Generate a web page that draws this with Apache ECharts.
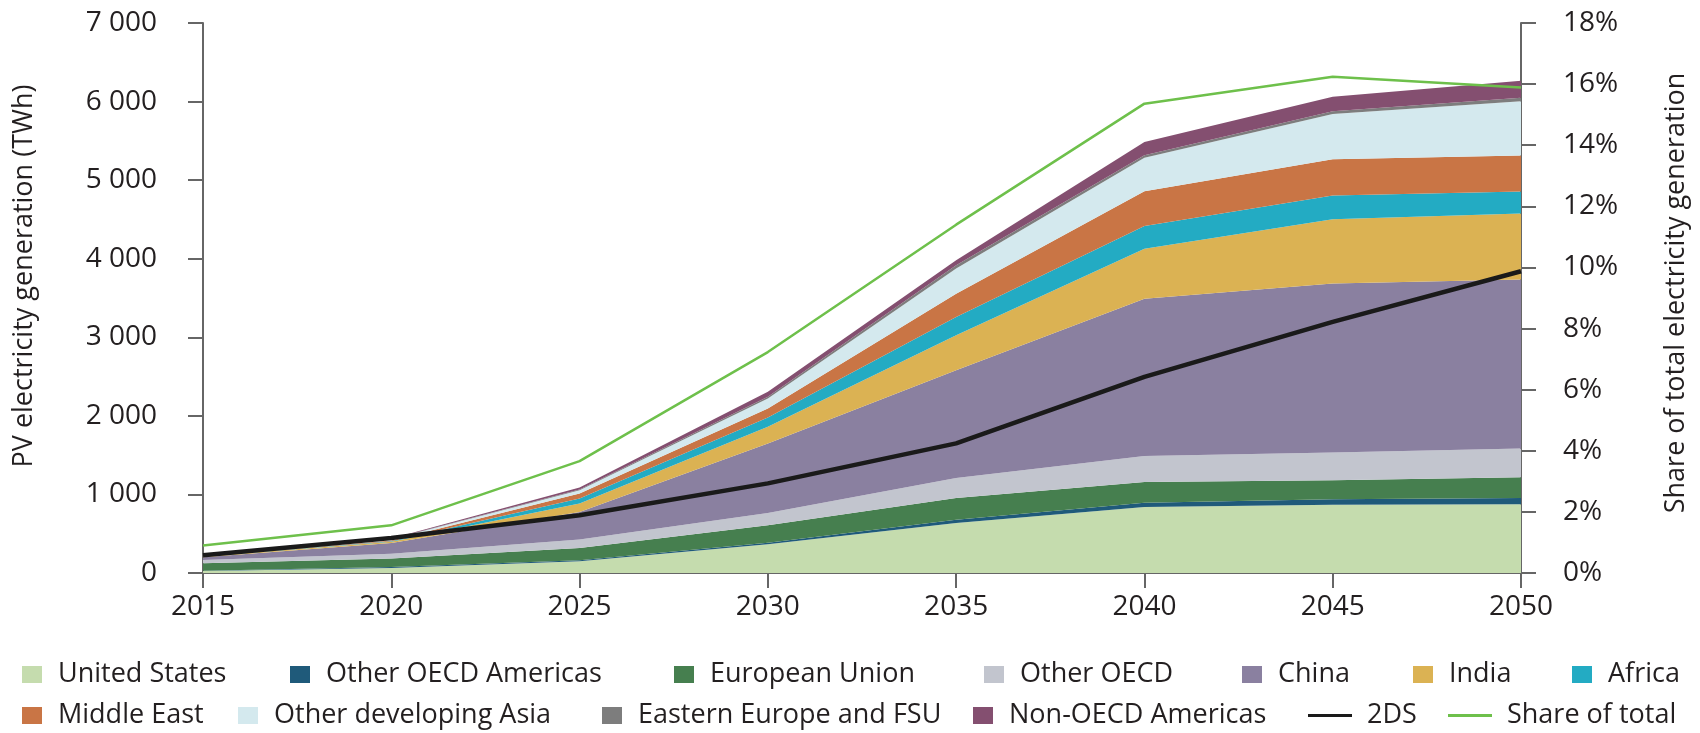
<!DOCTYPE html>
<html>
<head>
<meta charset="utf-8">
<script src="https://cdn.jsdelivr.net/npm/echarts@6/dist/echarts.min.js"></script>
<style>
html,body{margin:0;padding:0;background:#fff;}
#chart{width:1700px;height:733px;}
</style>
</head>
<body>
<div id="chart"></div>
<script>
// ---- data ----
const years = ['2015','2020','2025','2030','2035','2040','2045','2050'];
const unitedStates      = [25, 64, 149, 365, 636, 840, 870, 875];
const otherOECDAmericas = [5, 12, 12, 21, 43, 55, 70, 80];
const europeanUnion     = [95, 107, 157, 221, 276, 263, 239, 263];
const otherOECD         = [40, 63, 107, 157, 254, 331, 356, 365];
const china             = [35, 136, 352, 884, 1371, 2003, 2150, 2152];
const india             = [10, 15, 106, 212, 445, 636, 818, 839];
const africa            = [3, 8, 64, 119, 233, 289, 300, 282];
const middleEast        = [3, 10, 64, 114, 297, 441, 462, 457];
const otherDevAsia      = [6, 13, 42, 128, 319, 428, 578, 691];
const easternEuropeFSU  = [2, 4, 9, 21, 42, 30, 34, 46];
const nonOECDAmericas   = [4, 8, 25, 64, 64, 170, 183, 215];
const twoDS             = [225, 446, 735, 1141, 1650, 2495, 3197, 3840];
const shareOfTotal      = [0.9, 1.56, 3.66, 7.23, 11.4, 15.36, 16.24, 15.89];
const leftTicks  = {min: 0, max: 7000, interval: 1000};
const rightTicks = {min: 0, max: 18, interval: 2};

// ---- styling / layout ----
const FONT = '"Open Sans", "Noto Sans", sans-serif';
const TXT = '#231f20';
const AX = '#666666';

const areaDefs = [
  ['United States', unitedStates, '#c5dcae'],
  ['Other OECD Americas', otherOECDAmericas, '#1f5a7a'],
  ['European Union', europeanUnion, '#467f4f'],
  ['Other OECD', otherOECD, '#c2c5ce'],
  ['China', china, '#8a80a0'],
  ['India', india, '#dbb253'],
  ['Africa', africa, '#23abc3'],
  ['Middle East', middleEast, '#c97545'],
  ['Other developing Asia', otherDevAsia, '#d4e9ee'],
  ['Eastern Europe and FSU', easternEuropeFSU, '#7d7d7d'],
  ['Non-OECD Americas', nonOECDAmericas, '#844f70']
];

const series = areaDefs.map(([name, data, color]) => ({
  name, type: 'line', stack: 'total', data,
  symbol: 'none', smooth: false,
  lineStyle: {width: 0, color},
  itemStyle: {color},
  areaStyle: {color, opacity: 1},
  emphasis: {disabled: true},
  z: 2
}));
series.push({
  name: '2DS', type: 'line', data: twoDS, yAxisIndex: 0,
  symbol: 'none', lineStyle: {width: 4.5, color: '#1a1a1a'},
  itemStyle: {color: '#1a1a1a'}, z: 5
});
series.push({
  name: 'Share of total', type: 'line', data: shareOfTotal, yAxisIndex: 1,
  symbol: 'none', lineStyle: {width: 2.5, color: '#6ec04b'},
  itemStyle: {color: '#6ec04b'}, z: 5
});

// legend placement: [name, left, top, isLine]
const legendLayout = [
  ['United States', 17, 656], ['Other OECD Americas', 285, 656], ['European Union', 669, 656],
  ['Other OECD', 979, 656], ['China', 1237, 656], ['India', 1408, 656], ['Africa', 1567, 656],
  ['Middle East', 17, 697], ['Other developing Asia', 233, 697], ['Eastern Europe and FSU', 597, 697],
  ['Non-OECD Americas', 968, 697], ['2DS', 1303, 697, true], ['Share of total', 1443, 697, true]
];
const legends = legendLayout.map(([name, left, top, isLine]) => ({
  data: [name], left, top, orient: 'horizontal',
  itemWidth: isLine ? 44 : 20, itemHeight: isLine ? 3 : 17,
  icon: 'rect',
  selectedMode: false,
  textStyle: {fontFamily: FONT, fontSize: 27, color: TXT, padding: [0, 0, 0, isLine ? 10 : 11]}
}));

const thousands = v => String(v).replace(/\B(?=(\d{3})+(?!\d))/g, ' ');

const option = {
  animation: false,
  backgroundColor: '#ffffff',
  textStyle: {fontFamily: FONT},
  grid: {left: 203, right: 179, top: 23, bottom: 160, containLabel: false},
  legend: legends,
  xAxis: {
    type: 'category', data: years, boundaryGap: false,
    axisLine: {lineStyle: {color: AX, width: 2}},
    axisTick: {show: true, length: 15, alignWithLabel: true, lineStyle: {color: AX, width: 2}},
    axisLabel: {fontFamily: FONT, fontSize: 28, color: TXT, margin: 20},
    splitLine: {show: false}
  },
  yAxis: [
    {
      type: 'value', position: 'left', min: leftTicks.min, max: leftTicks.max, interval: leftTicks.interval,
      name: 'PV electricity generation (TWh)', nameLocation: 'middle', nameRotate: 90, nameGap: 165,
      nameTextStyle: {fontFamily: FONT, fontSize: 27, color: TXT, padding: [0, 0, 0, 44]},
      axisLine: {show: true, lineStyle: {color: AX, width: 2}},
      axisTick: {show: true, length: 15, lineStyle: {color: AX, width: 2}},
      axisLabel: {fontFamily: FONT, fontSize: 28, color: TXT, margin: 46, formatter: thousands},
      splitLine: {show: false}
    },
    {
      type: 'value', position: 'right', min: rightTicks.min, max: rightTicks.max, interval: rightTicks.interval,
      name: 'Share of total electricity generation', nameLocation: 'middle', nameRotate: 90, nameGap: 142,
      nameTextStyle: {fontFamily: FONT, fontSize: 27, color: TXT, padding: [0, 0, 0, 10]},
      axisLine: {show: true, lineStyle: {color: AX, width: 2}},
      axisTick: {show: true, length: 15, lineStyle: {color: AX, width: 2}},
      axisLabel: {fontFamily: FONT, fontSize: 28, color: TXT, margin: 42, formatter: '{value}%'},
      splitLine: {show: false}
    }
  ],
  series
};

const chart = echarts.init(document.getElementById('chart'), null, {renderer: 'canvas'});
chart.setOption(option);
</script>
</body>
</html>
